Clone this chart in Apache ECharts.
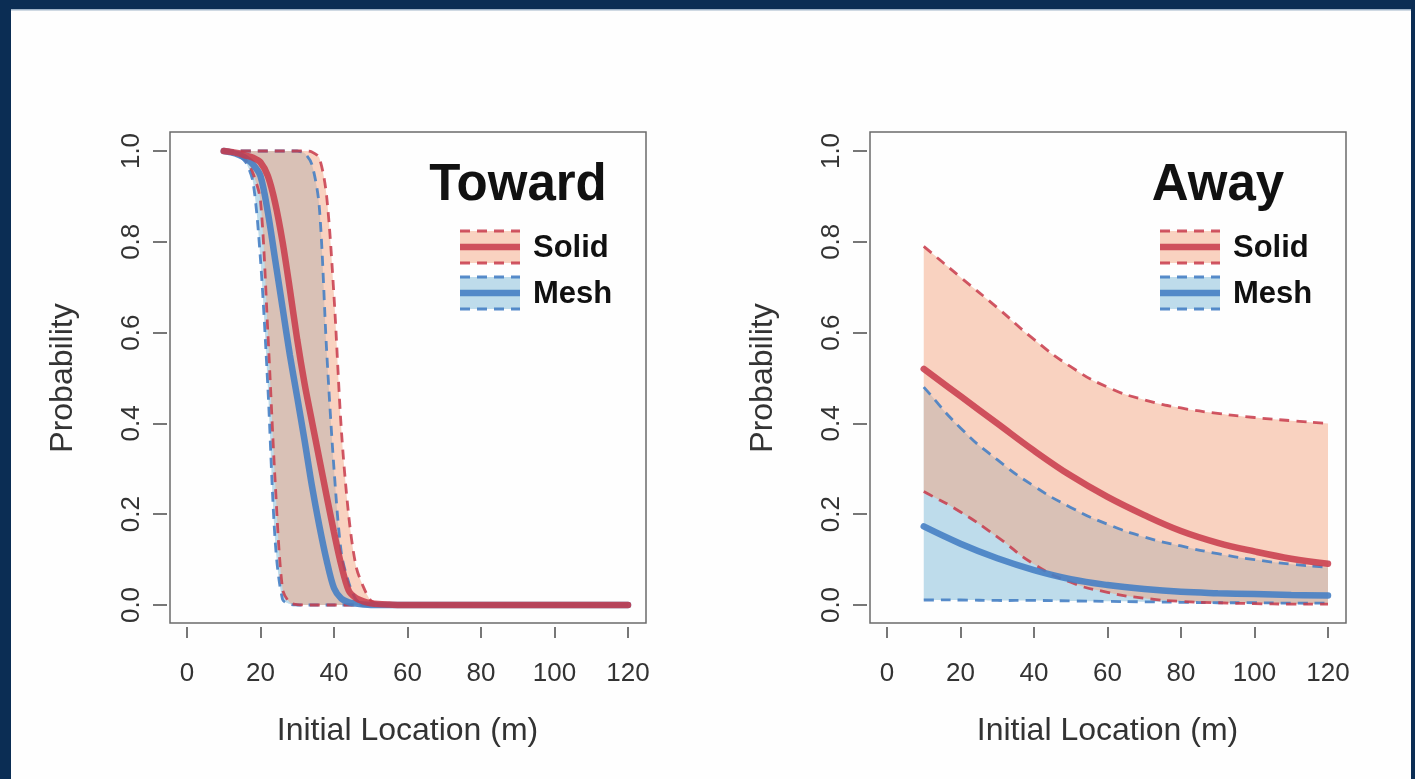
<!DOCTYPE html>
<html>
<head>
<meta charset="utf-8">
<title>Toward / Away</title>
<script src="https://cdn.jsdelivr.net/npm/echarts@6/dist/echarts.min.js"></script>
<style>
  html, body { margin: 0; padding: 0; background: #0b2d54; }
  #chart { width: 1415px; height: 779px; }
</style>
</head>
<body>
<div id="chart"></div>
<script>
// ---- datos ----
// Toward (panel izquierdo)
const xToward = [10, 12, 14, 16, 18, 20, 22, 24, 26, 28, 30, 32, 34, 36, 38, 40, 42, 44, 46, 48, 50, 52, 55, 60, 70, 80, 90, 100, 110, 120];
const towardSolidMean  = [1.0, 0.998, 0.995, 0.99, 0.985, 0.975, 0.945, 0.885, 0.8, 0.695, 0.584, 0.487, 0.404, 0.322, 0.24, 0.16, 0.087, 0.032, 0.015, 0.008, 0.004, 0.002, 0.001, 0, 0, 0, 0, 0, 0, 0];
const towardSolidLower = [1.0, 0.998, 0.993, 0.98, 0.95, 0.89, 0.6, 0.27, 0.035, 0.005, 0.001, 0, 0, 0, 0, 0, 0, 0, 0, 0, 0, 0, 0, 0, 0, 0, 0, 0, 0, 0];
const towardSolidUpper = [1.0, 1.0, 1.0, 1.0, 1.0, 1.0, 1.0, 1.0, 1.0, 1.0, 1.0, 1.0, 0.998, 0.985, 0.9, 0.68, 0.386, 0.197, 0.085, 0.04, 0.01, 0.003, 0.001, 0, 0, 0, 0, 0, 0, 0];
const towardMeshMean   = [1.0, 0.997, 0.992, 0.984, 0.97, 0.945, 0.865, 0.76, 0.655, 0.55, 0.457, 0.362, 0.262, 0.175, 0.098, 0.037, 0.014, 0.006, 0.003, 0.001, 0, 0, 0, 0, 0, 0, 0, 0, 0, 0];
const towardMeshLower  = [1.0, 0.997, 0.99, 0.975, 0.93, 0.76, 0.48, 0.14, 0.012, 0.002, 0, 0, 0, 0, 0, 0, 0, 0, 0, 0, 0, 0, 0, 0, 0, 0, 0, 0, 0, 0];
const towardMeshUpper  = [1.0, 1.0, 1.0, 1.0, 1.0, 1.0, 1.0, 1.0, 1.0, 1.0, 1.0, 0.995, 0.97, 0.877, 0.56, 0.3, 0.114, 0.05, 0.012, 0.003, 0.001, 0, 0, 0, 0, 0, 0, 0, 0, 0];

// Away (panel derecho)
const xAway = [10, 20, 30, 40, 50, 60, 70, 80, 90, 100, 110, 120];
const awaySolidMean  = [0.52, 0.46, 0.40, 0.34, 0.285, 0.238, 0.198, 0.163, 0.137, 0.118, 0.102, 0.091];
const awaySolidLower = [0.25, 0.205, 0.15, 0.09, 0.05, 0.028, 0.015, 0.008, 0.005, 0.003, 0.002, 0.002];
const awaySolidUpper = [0.79, 0.722, 0.655, 0.585, 0.525, 0.48, 0.452, 0.434, 0.422, 0.413, 0.406, 0.4];
const awayMeshMean   = [0.173, 0.135, 0.103, 0.077, 0.057, 0.044, 0.035, 0.029, 0.026, 0.024, 0.022, 0.021];
const awayMeshLower  = [0.011, 0.011, 0.010, 0.010, 0.009, 0.008, 0.007, 0.006, 0.005, 0.005, 0.004, 0.004];
const awayMeshUpper  = [0.48, 0.39, 0.32, 0.262, 0.215, 0.178, 0.15, 0.13, 0.113, 0.1, 0.09, 0.083];

// colores
const RED_LINE = 'rgba(200,58,74,0.85)';
const RED_FILL = 'rgba(244,165,130,0.5)';
const BLUE_LINE = 'rgba(70,128,196,0.9)';
const BLUE_FILL = 'rgba(146,197,222,0.6)';
const FONT = '"Liberation Sans", Arial, Helvetica, sans-serif';

const pares = (xs, ys) => xs.map((x, i) => [x, ys[i]]);

// banda de confianza (serie custom): modo 'fill' dibuja el poligono, 'edges' los bordes a trazos
const banda = (modo, xs, lo, hi, line, fill, gi, suave) => ({
    type: 'custom', xAxisIndex: gi, yAxisIndex: gi, silent: true, clip: false, z: 2,
    data: xs.map((x, i) => [x, lo[i], hi[i]]),
    encode: { x: 0, y: [1, 2] },
    renderItem: (params, api) => {
        if (params.dataIndex !== 0) return null;
        let n = xs.length;
        let top = xs.map((x, i) => api.coord([x, hi[i]]));
        let bot = xs.map((x, i) => api.coord([x, lo[i]]));
        // limites para que el suavizado no se salga de 0..1
        let a = api.coord([0, 1]), b = api.coord([120, 0]);
        let lim = [[a[0], a[1]], [b[0], b[1]]];
        // puntos repetidos en las esquinas para que queden rectas
        let topL = [top[0]].concat(top, [top[n - 1]]);
        let botL = [bot[0]].concat(bot, [bot[n - 1]]);
        if (modo === 'fill') {
            let poly = topL.concat(botL.slice().reverse());
            return { type: 'polygon', shape: { points: poly, smooth: suave, smoothConstraint: lim },
                     style: { fill: fill } };
        }
        let dash = { stroke: line, lineWidth: 2.8, lineDash: [10, 7], fill: null };
        return {
            type: 'group',
            children: [
                { type: 'polyline', shape: { points: botL, smooth: suave, smoothConstraint: lim },
                  style: dash },
                { type: 'polyline', shape: { points: topL, smooth: suave, smoothConstraint: lim },
                  style: dash }
            ]
        };
    }
});

const media = (xs, ys, line, gi, suave) => ({
    type: 'line', xAxisIndex: gi, yAxisIndex: gi, z: 3,
    data: pares(xs, ys), showSymbol: false, smooth: suave, clip: false,
    lineStyle: { color: line, width: 6.5, cap: 'round' }, silent: true
});

// posiciones de los dos paneles
const paneles = [
    { frameLeft: 170, dataLeft: 187, title: 'Toward' },
    { frameLeft: 870, dataLeft: 887, title: 'Away' }
];

const grids = [], xAxes = [], yAxes = [], graficos = [];
const oculto = (gi, max) => ({ gridIndex: gi, type: 'value', show: false, min: 0, max: max });

// fondo blanco dentro del marco azul
graficos.push({ type: 'rect', left: 11, top: 9, shape: { width: 1400, height: 770 },
    style: { fill: '#fefefe' }, z: -10, silent: true });
graficos.push({ type: 'rect', left: 11, top: 9, shape: { width: 1400, height: 1.5 },
    style: { fill: '#9fb3c8' }, z: -9, silent: true });

paneles.forEach((p, k) => {
    let g0 = k * 4;
    // 0: caja del grafico
    grids.push({ left: p.frameLeft, top: 132, width: 476, height: 491, show: true,
        borderColor: '#6b6b6b', borderWidth: 1.5, backgroundColor: 'transparent' });
    // 1: area de datos (0..120, 0..1)
    grids.push({ left: p.dataLeft, top: 151, width: 441, height: 454 });
    // 2: eje x separado de la caja
    grids.push({ left: p.dataLeft, top: 151, width: 441, height: 476 });
    // 3: eje y separado de la caja
    grids.push({ left: p.dataLeft - 20, top: 151, width: 461, height: 454 });

    xAxes.push(oculto(g0, 1));
    yAxes.push(oculto(g0, 1));
    xAxes.push(oculto(g0 + 1, 120));
    yAxes.push(oculto(g0 + 1, 1));

    xAxes.push({
        gridIndex: g0 + 2, type: 'value', min: 0, max: 120, interval: 20,
        axisLine: { show: false },
        axisTick: { show: true, length: 11, lineStyle: { color: '#555', width: 1.6 } },
        splitLine: { show: false },
        axisLabel: { margin: 34, fontSize: 26, color: '#333', fontFamily: FONT },
        name: 'Initial Location (m)', nameLocation: 'middle', nameGap: 88,
        nameTextStyle: { fontSize: 32, color: '#333', fontFamily: FONT }
    });
    yAxes.push(oculto(g0 + 2, 1));

    xAxes.push(oculto(g0 + 3, 120));
    yAxes.push({
        gridIndex: g0 + 3, type: 'value', min: 0, max: 1, interval: 0.2,
        axisLine: { show: false },
        axisTick: { show: true, length: 14, lineStyle: { color: '#555', width: 1.6 } },
        splitLine: { show: false },
        axisLabel: { margin: 22, fontSize: 26, color: '#333', fontFamily: FONT, rotate: 90,
            formatter: (v) => v.toFixed(1) },
        name: 'Probability', nameLocation: 'middle', nameGap: 88, nameRotate: 90,
        nameTextStyle: { fontSize: 32, color: '#333', fontFamily: FONT }
    });

    // titulo y leyenda dentro de la caja
    let cx = p.frameLeft + 348;
    graficos.push({ type: 'text', x: cx, y: 186, silent: true, z: 10,
        style: { text: p.title, font: 'bold 51px ' + FONT, fill: '#111',
            textAlign: 'center', textVerticalAlign: 'middle' } });

    let sx = p.frameLeft + 290, sw = 60;
    [[231, 263, RED_FILL, RED_LINE, 'Solid'], [277, 309, BLUE_FILL, BLUE_LINE, 'Mesh']].forEach((s) => {
        let y1 = s[0], y2 = s[1], ym = (y1 + y2) / 2;
        graficos.push({ type: 'rect', shape: { x: sx, y: y1, width: sw, height: y2 - y1 },
            style: { fill: s[2] }, silent: true, z: 10 });
        graficos.push({ type: 'line', shape: { x1: sx, y1: y1, x2: sx + sw, y2: y1 },
            style: { stroke: s[3], lineWidth: 2.8, lineDash: [10, 7] }, silent: true, z: 10 });
        graficos.push({ type: 'line', shape: { x1: sx, y1: y2, x2: sx + sw, y2: y2 },
            style: { stroke: s[3], lineWidth: 2.8, lineDash: [10, 7] }, silent: true, z: 10 });
        graficos.push({ type: 'line', shape: { x1: sx, y1: ym, x2: sx + sw, y2: ym },
            style: { stroke: s[3], lineWidth: 6.5 }, silent: true, z: 10 });
        graficos.push({ type: 'text', x: p.frameLeft + 363, y: ym + 1, silent: true, z: 10,
            style: { text: s[4], font: 'bold 31px ' + FONT, fill: '#111',
                textAlign: 'left', textVerticalAlign: 'middle' } });
    });
});

// series: rellenos (azul debajo de rojo), luego bordes a trazos, luego las medias
let series = [
    banda('fill', xToward, towardMeshLower, towardMeshUpper, BLUE_LINE, BLUE_FILL, 1, 0.3),
    banda('fill', xToward, towardSolidLower, towardSolidUpper, RED_LINE, RED_FILL, 1, 0.3),
    banda('edges', xToward, towardMeshLower, towardMeshUpper, BLUE_LINE, BLUE_FILL, 1, 0.3),
    banda('edges', xToward, towardSolidLower, towardSolidUpper, RED_LINE, RED_FILL, 1, 0.3),
    media(xToward, towardMeshMean, BLUE_LINE, 1, 0.3),
    media(xToward, towardSolidMean, RED_LINE, 1, 0.3),
    banda('fill', xAway, awayMeshLower, awayMeshUpper, BLUE_LINE, BLUE_FILL, 5, 0.55),
    banda('fill', xAway, awaySolidLower, awaySolidUpper, RED_LINE, RED_FILL, 5, 0.55),
    banda('edges', xAway, awayMeshLower, awayMeshUpper, BLUE_LINE, BLUE_FILL, 5, 0.55),
    banda('edges', xAway, awaySolidLower, awaySolidUpper, RED_LINE, RED_FILL, 5, 0.55),
    media(xAway, awayMeshMean, BLUE_LINE, 5, 0.4),
    media(xAway, awaySolidMean, RED_LINE, 5, 0.4)
];

var myChart = echarts.init(document.getElementById('chart'));
var option = {
    backgroundColor: '#0b2d54',
    animation: false,
    grid: grids,
    xAxis: xAxes,
    yAxis: yAxes,
    graphic: graficos,
    series: series
};
myChart.setOption(option);
</script>
</body>
</html>
